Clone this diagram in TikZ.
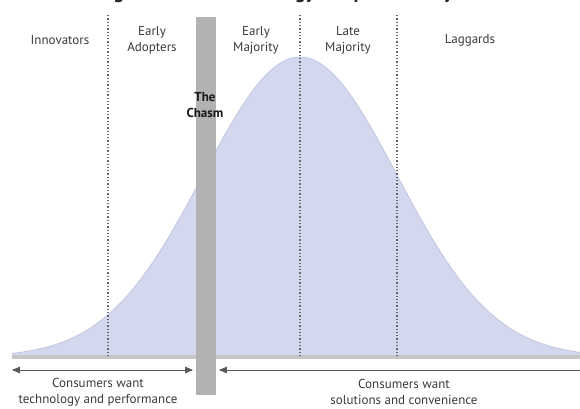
\documentclass[tikz,border=0pt]{standalone}
\usepackage{fontspec}
\setmainfont{PT Sans}
\usetikzlibrary{arrows}
\definecolor{kurve}{HTML}{D3D8EF}
\definecolor{kurverand}{HTML}{B9BFDC}
\definecolor{kluft}{HTML}{B2B2B2}
\definecolor{basis}{HTML}{C6C6C6}
\definecolor{schrift}{HTML}{3A3A3A}
\tikzstyle{every picture}=[x=1pt,y=-1pt,domain=12:580]
\tikzstyle{gruppe}=[text=schrift,font=\fontsize{13}{16}\selectfont,align=center,inner sep=1pt]
\tikzstyle{trenner}=[draw=black!60,line width=1.3pt,dash pattern=on 1.3pt off 2pt]
\tikzstyle{pfeil}=[draw=black!65,line width=0.8pt]

\begin{document}
\begin{tikzpicture}
			\useasboundingbox (0,0) rectangle (580,408);
			% Titel (oben abgeschnitten)
			\node[font=\bfseries\fontsize{20}{20}\selectfont,anchor=base,text=black!85] (titel) at (288,-2) {Figure 1: The Technology Adoption Lifecycle};
			% Kurve zeichnen
			\fill[kurve] (12,357) -- plot[samples=120] (\x,{357-300*exp(-((\x-300)/97)^2/2)}) -- (580,357) -- cycle;
			\draw[kurverand,line width=0.6pt] plot[samples=120] (\x,{357-300*exp(-((\x-300)/97)^2/2)});
			% Grundlinie zeichnen
			\draw[basis,line width=4pt] (12,357) -- (580,357);
			% Trennlinien zeichnen
			\foreach \t in {108,300,397}
				\draw[trenner] (\t,15) -- (\t,356);
			% Kluft zeichnen
			\fill[kluft] (196,17) rectangle (216,395);
			% Gruppen beschriften
			\node[gruppe] (innovators) at (60,40) {Innovators};
			\node[gruppe] (earlyadopters) at (152,40) {Early\\Adopters};
			\node[gruppe] (earlymajority) at (256,40) {Early\\Majority};
			\node[gruppe] (latemajority) at (348,40) {Late\\Majority};
			\node[gruppe] (laggards) at (470,40) {Laggards};
			\node[gruppe,font=\bfseries\fontsize{13}{16}\selectfont,text=black!90] (chasm) at (205,105) {The\\Chasm};
			% Pfeile zeichnen
			\coordinate (linksA) at (12,370);
			\coordinate (linksB) at (193,370);
			\coordinate (rechtsA) at (219,370);
			\coordinate (rechtsB) at (580,370);
			\draw[pfeil,triangle 45-triangle 45] (linksA) -- (linksB);
			\draw[pfeil,triangle 45-] (rechtsA) -- (rechtsB);
			% Unten beschriften
			\node[gruppe] (technik) at (98,392) {Consumers want\\technology and performance};
			\node[gruppe] (loesung) at (404,392) {Consumers want\\solutions and convenience};
		\end{tikzpicture}
\end{document}
